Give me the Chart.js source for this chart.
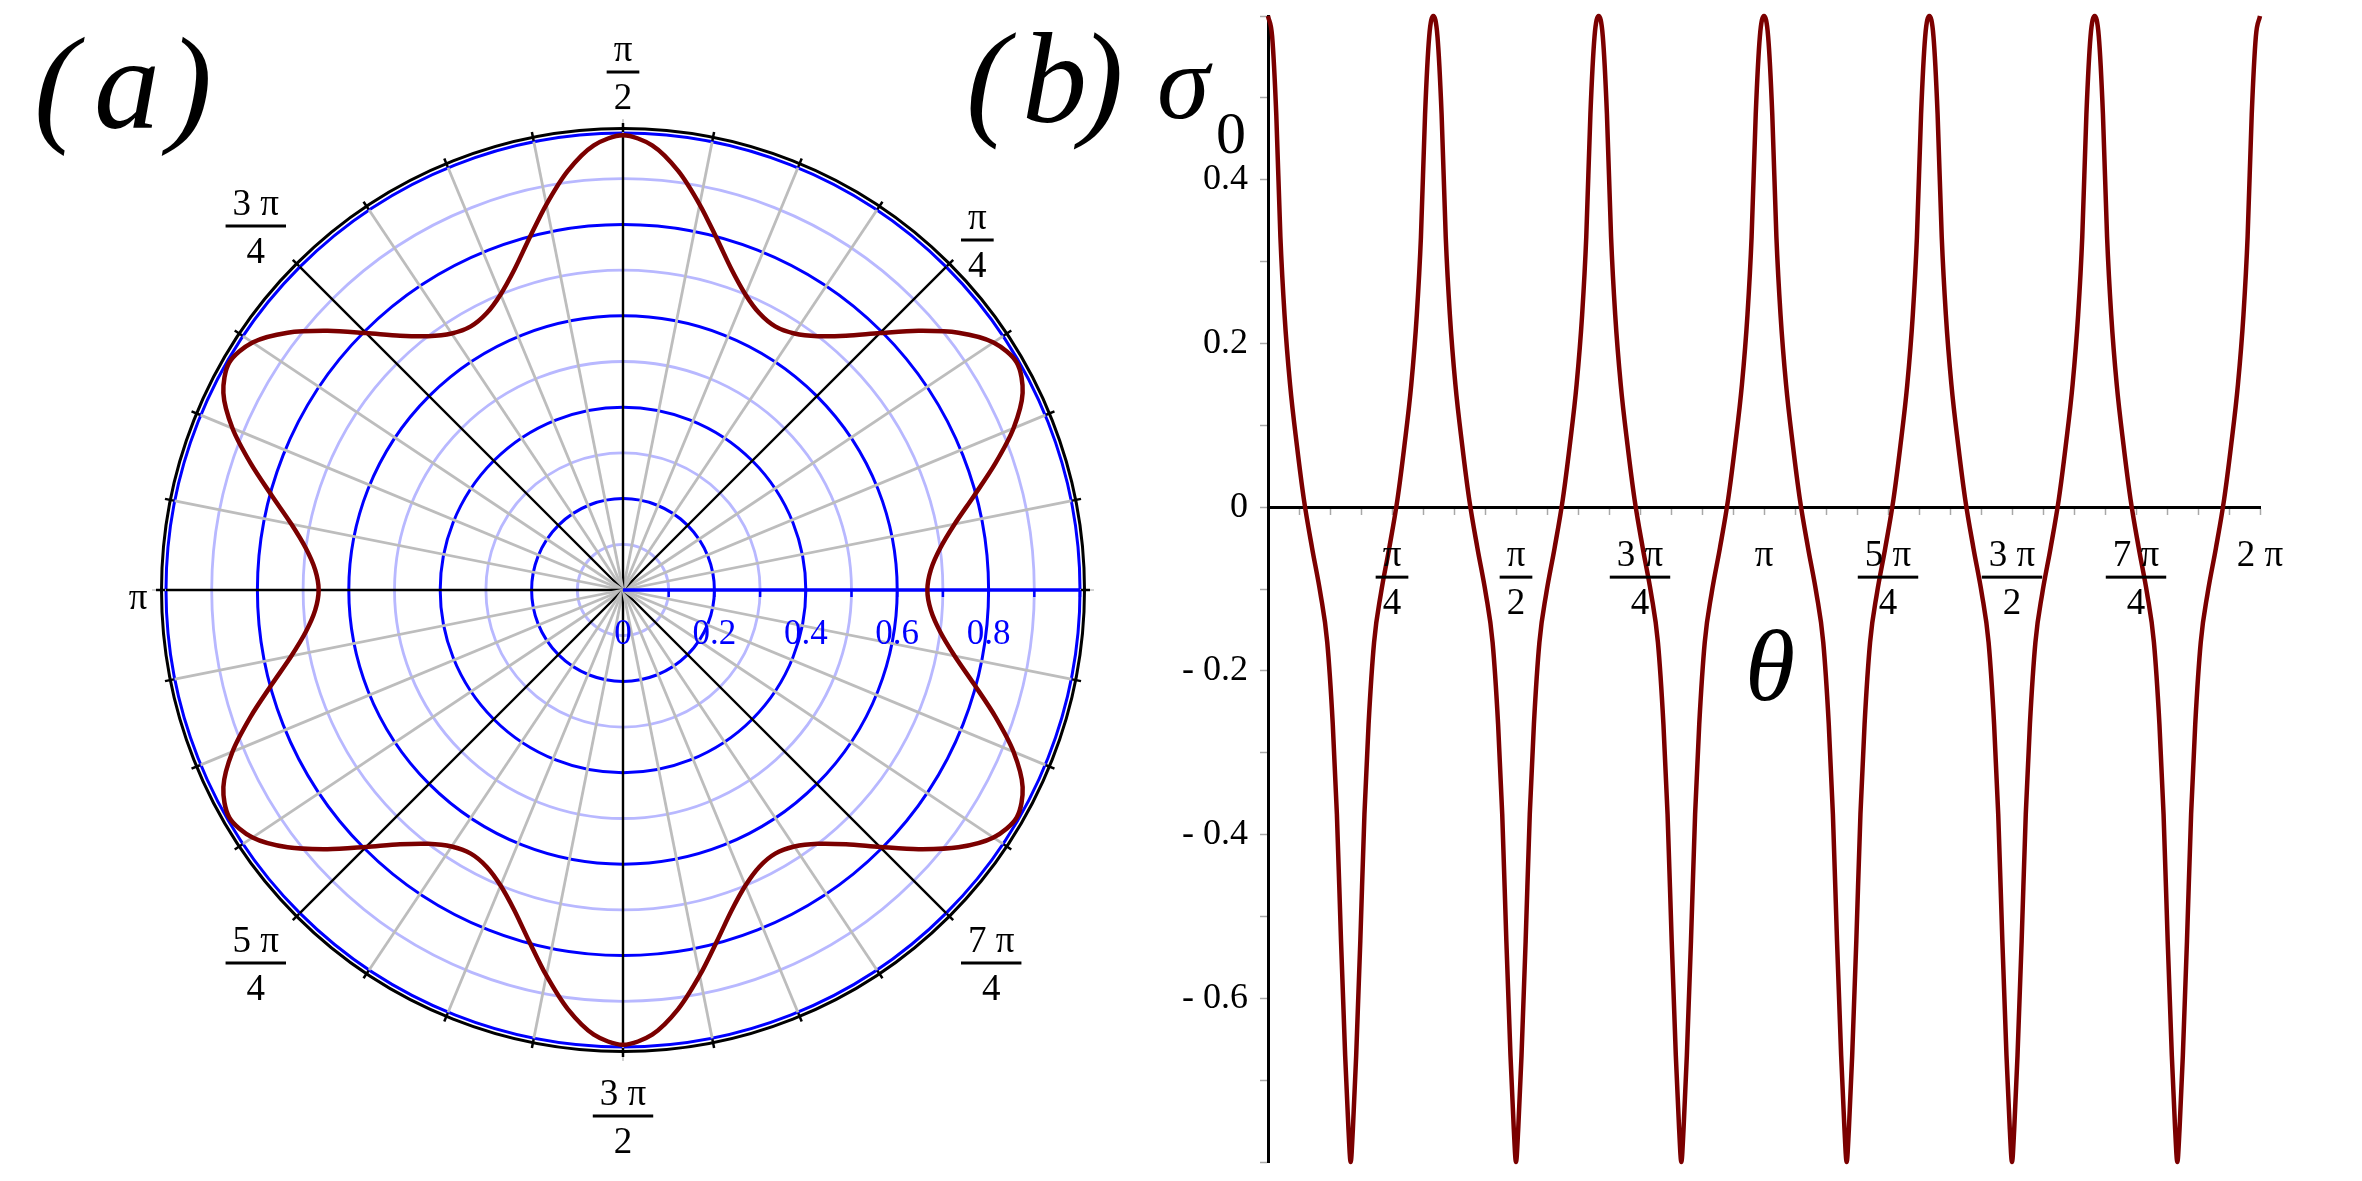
<!DOCTYPE html>
<html>
<head>
<meta charset="utf-8">
<script src="https://cdn.jsdelivr.net/npm/chart.js@4.4.1/dist/chart.umd.min.js"></script>
<style>
  html, body { margin: 0; padding: 0; background: #fff; }
  #wrap { position: relative; width: 2362px; height: 1181px; overflow: hidden; }
  canvas { position: absolute; top: 0; }
  #polar { left: 0; }
  #sigma { left: 940px; }
</style>
</head>
<body>
<div id="wrap">
  <canvas id="polar" width="1181" height="1181"></canvas>
  <canvas id="sigma" width="1422" height="1181"></canvas>
</div>
<script>
// ---- (a) polar curve, radius read every 3.75 degrees from theta = 0 ----
const polarStepDeg = 3.75;
const polarRadius = [
  0.666, 0.675, 0.70, 0.74, 0.795, 0.86, 0.925, 0.975, 0.995, 0.975, 0.925, 0.86, 0.795, 0.74, 0.70, 0.675,
  0.666, 0.675, 0.70, 0.74, 0.795, 0.86, 0.925, 0.975, 0.995, 0.975, 0.925, 0.86, 0.795, 0.74, 0.70, 0.675,
  0.666, 0.675, 0.70, 0.74, 0.795, 0.86, 0.925, 0.975, 0.995, 0.975, 0.925, 0.86, 0.795, 0.74, 0.70, 0.675,
  0.666, 0.675, 0.70, 0.74, 0.795, 0.86, 0.925, 0.975, 0.995, 0.975, 0.925, 0.86, 0.795, 0.74, 0.70, 0.675,
  0.666, 0.675, 0.70, 0.74, 0.795, 0.86, 0.925, 0.975, 0.995, 0.975, 0.925, 0.86, 0.795, 0.74, 0.70, 0.675,
  0.666, 0.675, 0.70, 0.74, 0.795, 0.86, 0.925, 0.975, 0.995, 0.975, 0.925, 0.86, 0.795, 0.74, 0.70, 0.675
];
const ringLabelValues = [0, 0.2, 0.4, 0.6, 0.8];
const ringLabels = ['0', '0.2', '0.4', '0.6', '0.8'];
const angleLabelDeg = [45, 90, 135, 180, 225, 270, 315];
const angleLabelNum = ['π', 'π', '3 π', 'π', '5 π', '3 π', '7 π'];
const angleLabelDen = ['4', '2', '4', '', '4', '2', '4'];

// ---- (b) sigma_0 against theta (degrees on the scale, shown as multiples of pi) ----
const sigmaTheta = [
  0, 1.5, 3, 4.5, 6, 8, 10.5, 13, 16, 19, 21.5, 23.5, 25, 26.5, 28, 29.2, 30, 30.8, 32, 33.5, 35, 36.5, 38.5, 41, 44, 47, 49.5, 52, 54, 55.5, 57, 58.5,
  60, 61.5, 63, 64.5, 66, 68, 70.5, 73, 76, 79, 81.5, 83.5, 85, 86.5, 88, 89.2, 90, 90.8, 92, 93.5, 95, 96.5, 98.5, 101, 104, 107, 109.5, 112, 114, 115.5, 117, 118.5,
  120, 121.5, 123, 124.5, 126, 128, 130.5, 133, 136, 139, 141.5, 143.5, 145, 146.5, 148, 149.2, 150, 150.8, 152, 153.5, 155, 156.5, 158.5, 161, 164, 167, 169.5, 172, 174, 175.5, 177, 178.5,
  180, 181.5, 183, 184.5, 186, 188, 190.5, 193, 196, 199, 201.5, 203.5, 205, 206.5, 208, 209.2, 210, 210.8, 212, 213.5, 215, 216.5, 218.5, 221, 224, 227, 229.5, 232, 234, 235.5, 237, 238.5,
  240, 241.5, 243, 244.5, 246, 248, 250.5, 253, 256, 259, 261.5, 263.5, 265, 266.5, 268, 269.2, 270, 270.8, 272, 273.5, 275, 276.5, 278.5, 281, 284, 287, 289.5, 292, 294, 295.5, 297, 298.5,
  300, 301.5, 303, 304.5, 306, 308, 310.5, 313, 316, 319, 321.5, 323.5, 325, 326.5, 328, 329.2, 330, 330.8, 332, 333.5, 335, 336.5, 338.5, 341, 344, 347, 349.5, 352, 354, 355.5, 357, 358.5,
  360
];
const sigmaValues = [
  0.60, 0.575, 0.48, 0.33, 0.235, 0.15, 0.075, 0.01, -0.05, -0.105, -0.165, -0.265, -0.375, -0.53, -0.67, -0.76, -0.80, -0.76, -0.67, -0.53, -0.375, -0.265, -0.165, -0.105, -0.05, 0.01, 0.075, 0.15, 0.235, 0.33, 0.48, 0.575,
  0.60, 0.575, 0.48, 0.33, 0.235, 0.15, 0.075, 0.01, -0.05, -0.105, -0.165, -0.265, -0.375, -0.53, -0.67, -0.76, -0.80, -0.76, -0.67, -0.53, -0.375, -0.265, -0.165, -0.105, -0.05, 0.01, 0.075, 0.15, 0.235, 0.33, 0.48, 0.575,
  0.60, 0.575, 0.48, 0.33, 0.235, 0.15, 0.075, 0.01, -0.05, -0.105, -0.165, -0.265, -0.375, -0.53, -0.67, -0.76, -0.80, -0.76, -0.67, -0.53, -0.375, -0.265, -0.165, -0.105, -0.05, 0.01, 0.075, 0.15, 0.235, 0.33, 0.48, 0.575,
  0.60, 0.575, 0.48, 0.33, 0.235, 0.15, 0.075, 0.01, -0.05, -0.105, -0.165, -0.265, -0.375, -0.53, -0.67, -0.76, -0.80, -0.76, -0.67, -0.53, -0.375, -0.265, -0.165, -0.105, -0.05, 0.01, 0.075, 0.15, 0.235, 0.33, 0.48, 0.575,
  0.60, 0.575, 0.48, 0.33, 0.235, 0.15, 0.075, 0.01, -0.05, -0.105, -0.165, -0.265, -0.375, -0.53, -0.67, -0.76, -0.80, -0.76, -0.67, -0.53, -0.375, -0.265, -0.165, -0.105, -0.05, 0.01, 0.075, 0.15, 0.235, 0.33, 0.48, 0.575,
  0.60, 0.575, 0.48, 0.33, 0.235, 0.15, 0.075, 0.01, -0.05, -0.105, -0.165, -0.265, -0.375, -0.53, -0.67, -0.76, -0.80, -0.76, -0.67, -0.53, -0.375, -0.265, -0.165, -0.105, -0.05, 0.01, 0.075, 0.15, 0.235, 0.33, 0.48, 0.575,
  0.60
];
const xTickDeg = [45, 90, 135, 180, 225, 270, 315, 360];
const xTickNum = ['π', 'π', '3 π', 'π', '5 π', '3 π', '7 π', '2 π'];
const xTickDen = ['4', '2', '4', '', '4', '2', '4', ''];
const yTickValues = [0.4, 0.2, 0, -0.2, -0.4, -0.6];
const yTickLabels = ['0.4', '0.2', '0', '- 0.2', '- 0.4', '- 0.6'];

const SERIF = '"Liberation Serif", "DejaVu Serif", serif';
const CURVE = '#7b0000';

function drawFraction(ctx, x, barY, num, den, align) {
  const wNum = ctx.measureText(num).width;
  const wDen = den ? ctx.measureText(den).width : 0;
  const barW = Math.max(wNum, wDen) + 14;
  let mid = x;
  if (align === 'left') mid = x + barW / 2;
  if (align === 'right') mid = x - barW / 2;
  ctx.textAlign = 'center';
  ctx.textBaseline = 'alphabetic';
  ctx.fillText(num, mid, barY - 11);
  if (!den) return;
  ctx.fillText(den, mid, barY + 37);
  ctx.fillRect(mid - barW / 2, barY - 1.5, barW, 3);
}

// chart index j sits at theta = -j*step (radar runs clockwise from the right)
const nPolar = polarRadius.length;
const radarLabels = polarRadius.map((_, j) => String((360 - j * polarStepDeg) % 360));
const radarData = polarRadius.map((_, j) => polarRadius[(nPolar - j) % nPolar]);

const polarDecor = {
  id: 'polarDecor',
  beforeDatasetsDraw(chart) {
    const s = chart.scales.r;
    const ctx = chart.ctx;
    const cx = s.xCenter, cy = s.yCenter;
    const R = s.getDistanceFromCenterForValue(1);
    ctx.save();
    // light gray stubs on the four axes
    ctx.strokeStyle = '#c4c4c4';
    ctx.lineWidth = 1.5;
    for (let k = 0; k < 4; k++) {
      const a = k * Math.PI / 2;
      ctx.beginPath();
      ctx.moveTo(cx + R * Math.cos(a), cy - R * Math.sin(a));
      ctx.lineTo(cx + (R + 14) * Math.cos(a), cy - (R + 14) * Math.sin(a));
      ctx.stroke();
    }
    // frame circle
    ctx.strokeStyle = '#000';
    ctx.lineWidth = 3;
    ctx.beginPath();
    ctx.arc(cx, cy, R + 4.5, 0, 2 * Math.PI);
    ctx.stroke();
    ctx.lineWidth = 2.5;
    for (let k = 0; k < 32; k++) {
      const a = k * Math.PI / 16;
      ctx.beginPath();
      ctx.moveTo(cx + (R + 1) * Math.cos(a), cy - (R + 1) * Math.sin(a));
      ctx.lineTo(cx + (R + 10) * Math.cos(a), cy - (R + 10) * Math.sin(a));
      ctx.stroke();
    }
    // radius ticks along theta = 0
    ctx.strokeStyle = '#0000ff';
    ctx.lineWidth = 2.5;
    for (let k = 1; k <= 10; k++) {
      const x = cx + s.getDistanceFromCenterForValue(k / 10);
      ctx.beginPath();
      ctx.moveTo(x, cy);
      ctx.lineTo(x, cy + 7);
      ctx.stroke();
    }
    ctx.restore();
  },
  afterDraw(chart) {
    const s = chart.scales.r;
    const ctx = chart.ctx;
    const cx = s.xCenter, cy = s.yCenter;
    ctx.save();
    ctx.fillStyle = '#0000ff';
    ctx.font = '35px ' + SERIF;
    ctx.textAlign = 'center';
    ctx.textBaseline = 'alphabetic';
    ringLabelValues.forEach((v, i) => {
      ctx.fillText(ringLabels[i], cx + s.getDistanceFromCenterForValue(v), cy + 54);
    });
    ctx.fillStyle = '#000';
    ctx.font = '37px ' + SERIF;
    const spot = {
      45: [338, -350, 'left'], 90: [0, -518, 'center'], 135: [-337, -364, 'right'],
      180: [-485, 30, 'center'], 225: [-337, 373, 'right'], 270: [0, 526, 'center'], 315: [338, 373, 'left']
    };
    angleLabelDeg.forEach((d, i) => {
      const p = spot[d];
      drawFraction(ctx, cx + p[0], cy + p[1], angleLabelNum[i], angleLabelDen[i], p[2]);
    });
    ctx.font = 'italic 132px ' + SERIF;
    ctx.textAlign = 'left';
    ctx.fillText('(', 34, 128);
    ctx.fillText('a', 94, 128);
    ctx.fillText(')', 168, 128);
    ctx.restore();
  }
};

new Chart(document.getElementById('polar'), {
  type: 'radar',
  data: {
    labels: radarLabels,
    datasets: [{
      data: radarData,
      borderColor: CURVE,
      borderWidth: 4.5,
      pointRadius: 0,
      fill: false,
      tension: 0.3
    }]
  },
  options: {
    responsive: false,
    animation: false,
    devicePixelRatio: 1,
    layout: { padding: { left: 166, right: 101, top: 133, bottom: 134 } },
    plugins: { legend: { display: false }, tooltip: { enabled: false } },
    scales: {
      r: {
        min: 0,
        max: 1,
        startAngle: 90,
        ticks: { display: false, stepSize: 0.1 },
        pointLabels: { display: false },
        grid: {
          circular: true,
          lineWidth: (c) => (Math.round(c.tick.value * 10) % 2 === 0 ? 3 : 2.8),
          color: (c) => (Math.round(c.tick.value * 10) % 2 === 0 ? '#0000ff' : '#b8b8ff')
        },
        angleLines: {
          color: (c) => {
            if (c.index === 0) return '#0000ff';
            if (c.index % 12 === 0) return '#000000';
            if (c.index % 3 === 0) return '#bdbdbd';
            return 'rgba(0,0,0,0)';
          },
          lineWidth: (c) => {
            if (c.index === 0) return 3.5;
            if (c.index % 12 === 0) return 2.4;
            if (c.index % 3 === 0) return 2.8;
            return 0;
          }
        }
      }
    }
  },
  plugins: [polarDecor]
});

// ---- (b) ----
const PAGE_LEFT = 940;
const sigmaDecor = {
  id: 'sigmaDecor',
  afterDraw(chart) {
    const ctx = chart.ctx;
    const xs = chart.scales.x, ys = chart.scales.y;
    const axisY = ys.getPixelForValue(0);
    ctx.save();
    ctx.fillStyle = '#000';
    ctx.font = '36px ' + SERIF;
    ctx.textAlign = 'right';
    ctx.textBaseline = 'middle';
    yTickValues.forEach((v, i) => {
      ctx.fillText(yTickLabels[i], xs.getPixelForValue(0) - 20, ys.getPixelForValue(v));
    });
    ctx.font = '37px ' + SERIF;
    xTickDeg.forEach((d, i) => {
      drawFraction(ctx, xs.getPixelForValue(d), axisY + 70, xTickNum[i], xTickDen[i], 'center');
    });
    ctx.translate(-PAGE_LEFT, 0);
    ctx.textAlign = 'left';
    ctx.textBaseline = 'alphabetic';
    ctx.font = 'italic 130px ' + SERIF;
    ctx.fillText('(', 966, 122);
    ctx.fillText('b', 1022, 122);
    ctx.fillText(')', 1080, 122);
    ctx.font = 'italic 106px ' + SERIF;
    ctx.fillText('σ', 1157, 118);
    ctx.font = '60px ' + SERIF;
    ctx.fillText('0', 1216, 153);
    ctx.font = 'italic 102px ' + SERIF;
    ctx.textAlign = 'center';
    ctx.fillText('θ', 1770, 700);
    ctx.restore();
  }
};

new Chart(document.getElementById('sigma'), {
  type: 'line',
  data: {
    datasets: [{
      data: sigmaTheta.map((t, i) => ({ x: t, y: sigmaValues[i] })),
      borderColor: CURVE,
      borderWidth: 4.5,
      pointRadius: 0,
      fill: false,
      cubicInterpolationMode: 'monotone',
      clip: 6
    }]
  },
  options: {
    responsive: false,
    animation: false,
    devicePixelRatio: 1,
    layout: { padding: { left: 328, right: 102, top: 16, bottom: 19 } },
    plugins: { legend: { display: false }, tooltip: { enabled: false } },
    scales: {
      x: {
        type: 'linear',
        min: 0,
        max: 360,
        position: { y: 0 },
        ticks: { display: false, stepSize: 11.25 },
        grid: { drawOnChartArea: false, tickLength: 6, tickColor: '#a8a8a8', tickWidth: 1.5 },
        border: { color: '#000', width: 3 }
      },
      y: {
        type: 'linear',
        min: -0.8,
        max: 0.6,
        position: { x: 0 },
        ticks: { display: false, stepSize: 0.1 },
        grid: { drawOnChartArea: false, tickLength: 7, tickColor: '#a8a8a8', tickWidth: 1.5 },
        border: { color: '#000', width: 3 }
      }
    }
  },
  plugins: [sigmaDecor]
});
</script>
</body>
</html>
